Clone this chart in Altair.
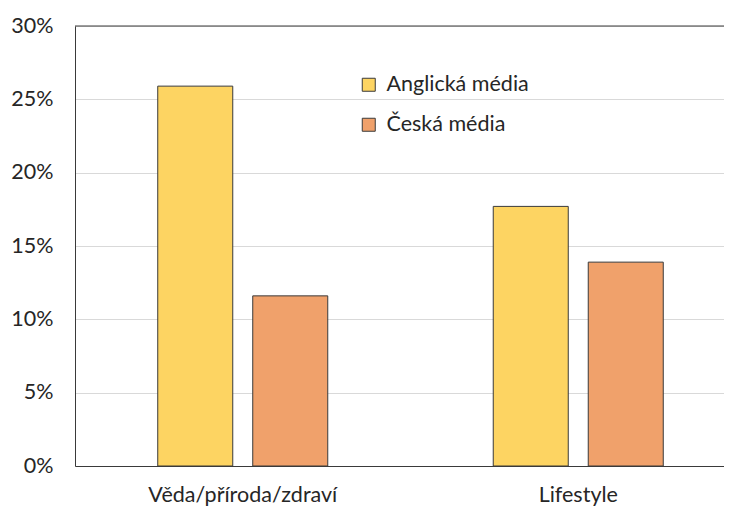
import altair as alt
import pandas as pd

categories = ["Věda/příroda/zdraví", "Lifestyle"]
series = ["Anglická média", "Česká média"]
anglicka = [0.259, 0.177]
ceska = [0.116, 0.139]
colors = ["#FDD462", "#F0A16B"]
y_ticks = [0, 0.05, 0.10, 0.15, 0.20, 0.25, 0.30]

rows = []
for i, c in enumerate(categories):
    rows.append({"kategorie": c, "média": series[0], "podíl": anglicka[i]})
    rows.append({"kategorie": c, "média": series[1], "podíl": ceska[i]})
df = pd.DataFrame(rows)
top_df = pd.DataFrame({"podíl": [y_ticks[-1]]})

FONT = "Lato"
TXT = "#262626"
LINE = "#3A3A3A"
FS = 21.5

bars = alt.Chart(df).mark_bar(stroke=LINE, strokeWidth=1).encode(
    x=alt.X(
        "kategorie:N", sort=categories, title=None,
        scale=alt.Scale(range=[0, 671], paddingInner=0, paddingOuter=0),
        axis=alt.Axis(labelAngle=0, ticks=False, domain=True,
                      domainColor=LINE, domainWidth=1, grid=False,
                      labelFontSize=FS, labelPadding=18, labelColor=TXT,
                      labelFont=FONT, labelLimit=0),
    ),
    xOffset=alt.XOffset(
        "média:N", sort=series,
        scale=alt.Scale(paddingInner=0.2105, paddingOuter=0.871),
    ),
    y=alt.Y(
        "podíl:Q", title=None,
        scale=alt.Scale(domain=[0, 0.3], nice=False),
        axis=alt.Axis(values=y_ticks, format=".0%", ticks=False, domain=True,
                      domainColor=LINE, domainWidth=1,
                      grid=True, gridColor="#D9D9D9", gridWidth=1,
                      labelFontSize=FS, labelPadding=22, labelColor=TXT,
                      labelFont=FONT),
    ),
    color=alt.Color(
        "média:N", sort=series,
        scale=alt.Scale(domain=series, range=colors),
        legend=alt.Legend(
            title=None, orient="none", legendX=283, legendY=48,
            symbolType="square", symbolSize=169, symbolStrokeColor=LINE,
            symbolStrokeWidth=1, symbolOpacity=1,
            labelFontSize=FS, labelFont=FONT, labelColor=TXT,
            labelOffset=7, rowPadding=17,
        ),
    ),
)

top_line = alt.Chart(top_df).mark_rule(color=LINE, strokeWidth=1).encode(
    y=alt.Y("podíl:Q")
)

chart = alt.layer(bars, top_line).properties(
    width=649, height=440,
    autosize=alt.AutoSizeParams(type="none"),
    padding={"left": 67, "top": 18, "right": 0, "bottom": 50},
).configure_view(
    strokeWidth=0
).configure(background="white")

chart.save("out.html", embed_options={"renderer": "svg", "actions": False})
